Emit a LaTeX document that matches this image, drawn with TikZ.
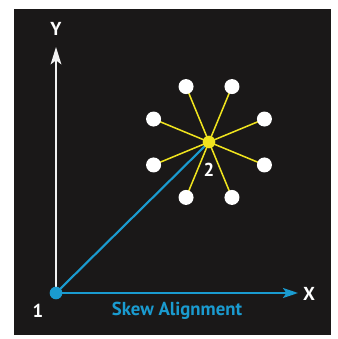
\documentclass[tikz,border=0pt]{standalone}
\usepackage{fontspec}
\setmainfont{PT Sans}
\usetikzlibrary{arrows.meta, calc}
\definecolor{skewBlue}{HTML}{1A9BD0}
\definecolor{spokeYellow}{HTML}{F0E41E}
\definecolor{bgBlack}{HTML}{1A1818}

\begin{document}
\begin{tikzpicture}[x=0.03cm, y=0.03cm,
    lbl/.style={font=\bfseries\fontsize{16}{18}\selectfont, text=white, inner sep=0pt},
    pin/.style={circle, fill=white, minimum size=0.45cm, inner sep=0pt},
    hub/.style={circle, fill=#1, minimum size=0.38cm, inner sep=0pt}]
    % Background
    \useasboundingbox (0,0) rectangle (337,339);
    \fill[bgBlack] (14,4) rectangle (331,330);

    % Points
    \coordinate (one) at (56,46);
    \coordinate (two) at (209,197);
    \coordinate (ytip) at (56,292);
    \coordinate (xtip) at (298,46);

    % Axes
    \draw[white!90!gray, line width=1.6pt, -{Stealth[length=0.52cm, width=0.32cm, inset=0.12cm]}] (one) -- (ytip);
    \draw[skewBlue, line width=1.8pt, -{Stealth[length=0.45cm, width=0.3cm, inset=0.1cm]}] (one) -- (xtip);
    \draw[skewBlue, line width=1.8pt] (one) -- (two);

    % Spokes
    \foreach \a [count=\i] in {22.5, 67.5, 112.5, 157.5, 202.5, 247.5, 292.5, 337.5} {
        \coordinate (p\i) at ($(two)+(\a:60)$);
        \draw[spokeYellow, line width=1.3pt] (two) -- (p\i);
        \node[pin] (d\i) at (p\i) {};
    }
    \node[hub=spokeYellow] (c) at (two) {};
    \node[hub=skewBlue] (o) at (one) {};

    % Labels
    \node[lbl] (ylbl) at (56,310) {Y};
    \node[lbl] (xlbl) at (309,45) {X};
    \node[lbl] (lbl1) at (38,28) {1};
    \node[lbl] (lbl2) at (209,169) {2};
    \node[lbl, text=skewBlue] (skew) at (177,28) {Skew Alignment};
\end{tikzpicture}
\end{document}
